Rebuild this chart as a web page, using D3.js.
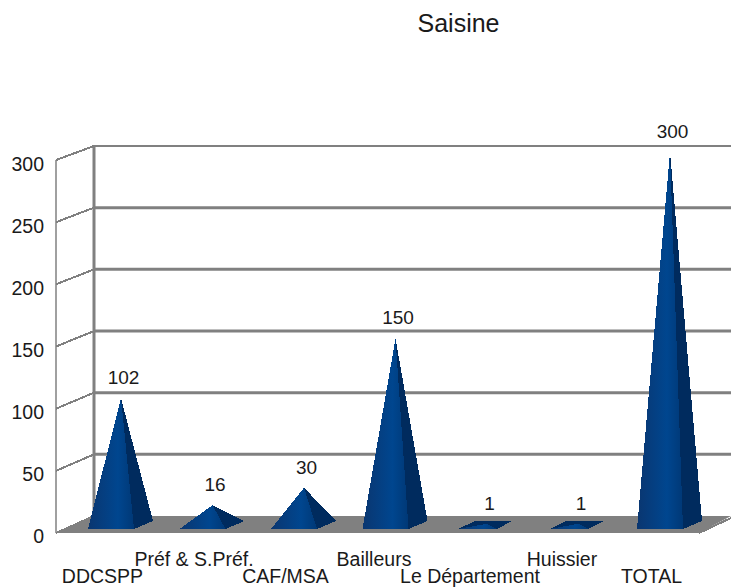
<!DOCTYPE html>
<html>
<head>
<meta charset="utf-8">
<script src="https://cdn.jsdelivr.net/npm/d3@7/dist/d3.min.js"></script>
<style>
  html, body { margin: 0; padding: 0; background: #fff; }
  svg { display: block; }
  text { font-family: "Liberation Sans", sans-serif; fill: #1a1a1a; }
</style>
</head>
<body>
<svg id="chart" width="731" height="587"></svg>
<script>
var categories = ["DDCSPP", "Préf & S.Préf.", "CAF/MSA", "Bailleurs", "Le Département", "Huissier", "TOTAL"];
var values = [102, 16, 30, 150, 1, 1, 300];
var ticks = [0, 50, 100, 150, 200, 250, 300];

var svg = d3.select("#chart");

// the 3d box: front edge of the side wall, back wall, and the plane the peaks stand on
var yFront = d3.scaleLinear().domain([0, 300]).range([533, 160]);
var yBack = d3.scaleLinear().domain([0, 300]).range([516, 146]);
var yPeak = d3.scaleLinear().domain([0, 300]).range([525, 152]);
var yTick = d3.scaleLinear().domain([0, 300]).range([535.7, 163.7]);

var x = d3.scaleBand().domain(categories).range([75.25, 715.75]).padding(0);

var defs = svg.append("defs");
var grad = defs.append("linearGradient").attr("id", "front");
grad.append("stop").attr("offset", "0%").attr("stop-color", "#0a3670");
grad.append("stop").attr("offset", "65%").attr("stop-color", "#00468f");
grad.append("stop").attr("offset", "100%").attr("stop-color", "#003876");

// title
svg.append("text")
  .attr("x", 458.5).attr("y", 32)
  .attr("text-anchor", "middle")
  .style("font-size", "25px")
  .text("Saisine");

// floor
svg.append("polygon")
  .attr("points", [[56, yFront(0)], [94, yBack(0)], [731, yBack(0)], [699, yFront(0)]].join(" "))
  .attr("fill", "#808080");

// back wall grid
svg.selectAll(".grid")
  .data(ticks.slice(1))
  .enter().append("line")
  .attr("class", "grid")
  .attr("x1", 94).attr("x2", 731)
  .attr("y1", function (d) { return yBack(d); })
  .attr("y2", function (d) { return yBack(d); })
  .attr("stroke", "#808080")
  .attr("stroke-width", function (d) { return d === 300 ? 2 : 3; });

// walls
svg.append("line")
  .attr("x1", 94).attr("x2", 94)
  .attr("y1", yBack(300)).attr("y2", yBack(0))
  .attr("stroke", "#808080").attr("stroke-width", 3);
svg.append("line")
  .attr("x1", 56).attr("x2", 56)
  .attr("y1", yFront(300)).attr("y2", yFront(0))
  .attr("stroke", "#808080").attr("stroke-width", 1.5);

// side wall ticks, jagged like the original
svg.selectAll(".side")
  .data(ticks)
  .enter().append("line")
  .attr("class", "side")
  .attr("x1", 56).attr("x2", 94)
  .attr("y1", function (d) { return yFront(d); })
  .attr("y2", function (d) { return yBack(d); })
  .attr("stroke", "#808080")
  .attr("stroke-width", 2)
  .attr("shape-rendering", "crispEdges");

// right end of the floor
svg.append("line")
  .attr("x1", 699).attr("x2", 731)
  .attr("y1", yFront(0)).attr("y2", yBack(0) + 2)
  .attr("stroke", "#808080")
  .attr("stroke-width", 2)
  .attr("shape-rendering", "crispEdges");

// axis labels
svg.selectAll(".tick")
  .data(ticks)
  .enter().append("text")
  .attr("class", "tick")
  .attr("x", 44)
  .attr("y", function (d) { return yTick(d); })
  .attr("dy", "0.36em")
  .attr("text-anchor", "end")
  .style("font-size", "19.5px")
  .text(function (d) { return d; });

// pyramids
var peaks = svg.selectAll(".peak")
  .data(categories)
  .enter().append("g")
  .attr("class", "peak")
  .attr("transform", function (d) { return "translate(" + x(d) + ",0)"; })
  .attr("shape-rendering", "crispEdges");

var bw = x.bandwidth();
var cx = bw / 2;

// base corners, the almost flat peaks come out a bit narrower in the original
function base(i) {
  var flat = values[i] < 5;
  return {
    fl: cx - (flat ? 29 : 33),
    fr: cx + (flat ? 10 : 13),
    br: cx + (flat ? 25 : 32),
    bl: cx - (flat ? 12 : 14)
  };
}

peaks.append("polygon")
  .attr("points", function (d, i) {
    var b = base(i);
    return [[b.fl, 529], [b.fr, 529], [b.br, 521], [b.bl, 521]].join(" ");
  })
  .attr("fill", "#002b5e");
peaks.append("polygon")
  .attr("points", function (d, i) {
    var b = base(i);
    return [[b.fr, 529], [b.br, 521], [cx, yPeak(values[i])]].join(" ");
  })
  .attr("fill", "#002b5e");
peaks.append("polygon")
  .attr("points", function (d, i) {
    var b = base(i);
    return [[b.fl, 529], [b.fr, 529], [cx, yPeak(values[i])]].join(" ");
  })
  .attr("fill", "url(#front)");

// value labels
peaks.append("text")
  .attr("x", cx + 2.5)
  .attr("y", function (d, i) { return yPeak(values[i]) - 21; })
  .attr("dy", "0.36em")
  .attr("text-anchor", "middle")
  .style("font-size", "19px")
  .text(function (d, i) { return values[i]; });

// category labels, two rows
var nudge = { "Bailleurs": -3, "Le Département": 1.5, "Huissier": 2 };
svg.selectAll(".cat")
  .data(categories)
  .enter().append("text")
  .attr("class", "cat")
  .attr("x", function (d) { return x(d) + bw / 2 - 18.5 + (nudge[d] || 0); })
  .attr("y", function (d, i) { return i % 2 ? 566 : 583; })
  .attr("text-anchor", "middle")
  .style("font-size", "19.5px")
  .text(function (d) { return d; });
</script>
</body>
</html>
